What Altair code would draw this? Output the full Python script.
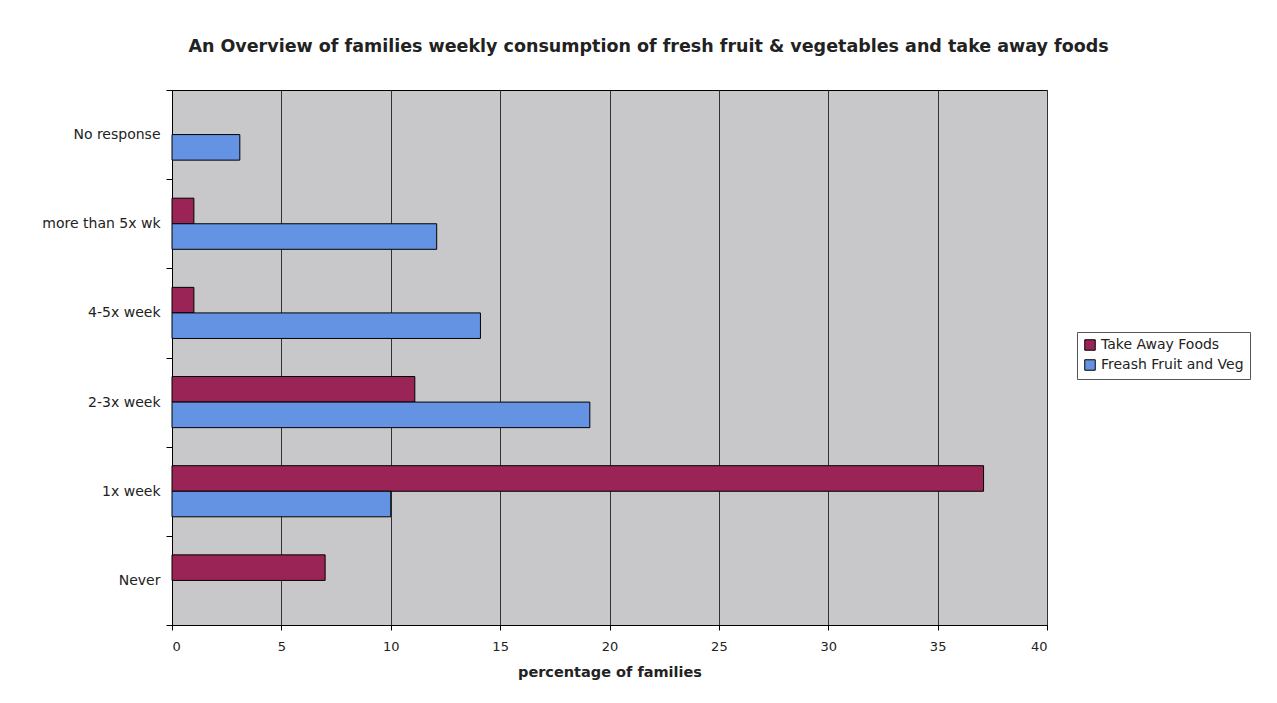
import altair as alt
import pandas as pd

categories = ["No response", "more than 5x wk", "4-5x week", "2-3x week", "1x week", "Never"]
series = ["Take Away Foods", "Freash Fruit and Veg"]
take_away = [0, 1.0, 1.0, 11.1, 37.1, 7.0]
fruit_veg = [3.1, 12.1, 14.1, 19.1, 10.0, 0]
colors = ["#9b2457", "#6493e4"]

rows = []
for c, t, f in zip(categories, take_away, fruit_veg):
    rows.append({"cat": c, "series": series[0], "value": t})
    rows.append({"cat": c, "series": series[1], "value": f})
df = pd.DataFrame(rows)

font = "DejaVu Sans"

chart = alt.Chart(df).transform_filter("datum.value > 0").mark_bar(stroke="black", strokeWidth=1).encode(
    y=alt.Y("cat:N", sort=categories, title=None,
            scale=alt.Scale(domain=categories, paddingInner=0, paddingOuter=0),
            axis=alt.Axis(tickBand="extent", tickSize=6, labelPadding=6,
                          labelFontSize=14, labelFont=font, labelColor="#222",
                          domainColor="black", tickColor="black", grid=False)),
    yOffset=alt.YOffset("series:N", sort=series,
                        scale=alt.Scale(domain=series, paddingInner=0, paddingOuter=0.745)),
    x=alt.X("value:Q", title="percentage of families",
            scale=alt.Scale(domain=[0, 40], nice=False),
            axis=alt.Axis(values=[0, 5, 10, 15, 20, 25, 30, 35, 40], tickSize=5,
                          labelPadding=10, labelFontSize=13, labelFont=font,
                          labelColor="#222", titleFont=font, titleFontSize=14.5,
                          titleFontWeight="bold", titlePadding=12, titleColor="#222",
                          grid=True, gridColor="#333", gridWidth=1,
                          domainColor="black", tickColor="black")),
    color=alt.Color("series:N", sort=series,
                    scale=alt.Scale(domain=series, range=colors),
                    legend=alt.Legend(title=None, orient="none", legendX=905, legendY=242,
                                      symbolType="square", symbolSize=110,
                                      symbolStrokeColor="black", symbolStrokeWidth=1,
                                      labelFont=font, labelFontSize=14, labelColor="#222",
                                      strokeColor="#555", padding=6, rowPadding=4,
                                      fillColor="white")),
).properties(
    width=875, height=535,
    background="white",
    title=alt.Title("An Overview of families weekly consumption of fresh fruit & vegetables and take away foods",
                    font=font, fontSize=17.5, fontWeight="bold", color="#222",
                    anchor="middle", dx=39, offset=28),
    autosize=alt.AutoSizeParams(type="none"),
    padding={"left": 172, "top": 90, "right": 230, "bottom": 78},
).configure_view(fill="#c8c8ca", stroke="black", strokeWidth=1)

chart.save("out.html", embed_options={"renderer": "svg", "actions": False})
